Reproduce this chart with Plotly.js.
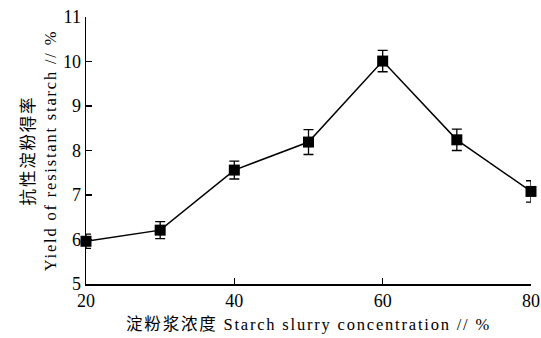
<!DOCTYPE html>
<html><head><meta charset="utf-8">
<script src="https://cdn.plot.ly/plotly-3.0.1.min.js"></script>
<style>html,body{margin:0;padding:0;background:#fff}#c{width:541px;height:338px}
.g-xtitle text,.g-ytitle text{letter-spacing:1.8px}</style>
</head><body><div id="c"></div>
<script>
const concentration = [20, 30, 40, 50, 60, 70, 80];
const yieldValues = [5.96, 6.21, 7.56, 8.19, 10.01, 8.24, 7.08];
const errors = [0.16, 0.19, 0.2, 0.28, 0.24, 0.24, 0.24];
const xTicks = [20, 40, 60, 80];

const serif = "Liberation Serif, 'Times New Roman', 'Noto Sans CJK SC', serif";
Plotly.newPlot('c', [{
  x: concentration, y: yieldValues, type: 'scatter', mode: 'lines+markers',
  line: {color: '#000', width: 1.5},
  marker: {symbol: 'square', size: 11, color: '#000'},
  error_y: {type: 'data', array: errors, visible: true, color: '#000', thickness: 1.3, width: 5},
  cliponaxis: false
}], {
  width: 541, height: 338,
  margin: {l: 86, r: 10, t: 17, b: 54},
  paper_bgcolor: '#fff', plot_bgcolor: '#fff',
  showlegend: false,
  font: {family: serif, color: '#000', size: 16},
  xaxis: {
    range: [20, 80], tickvals: xTicks, ticktext: xTicks.map(String),
    showgrid: false, zeroline: false, showline: true, linecolor: '#000', linewidth: 1.5,
    ticks: 'inside', ticklen: 6, tickcolor: '#000', tickwidth: 1.2,
    tickfont: {size: 18, family: serif},
    title: {text: '淀粉浆浓度 Starch slurry concentration // %', font: {size: 16.5, family: serif}, standoff: 8}
  },
  yaxis: {
    range: [5, 11], dtick: 1,
    showgrid: false, zeroline: false, showline: true, linecolor: '#000', linewidth: 1.5,
    ticks: 'inside', ticklen: 6, tickcolor: '#000', tickwidth: 1.2,
    tickfont: {size: 18, family: serif},
    title: {text: '抗性淀粉得率<br>Yield of resistant starch // %', font: {size: 16.5, family: serif}, standoff: 2}
  }
}, {displayModeBar: false, staticPlot: true});
</script></body></html>
